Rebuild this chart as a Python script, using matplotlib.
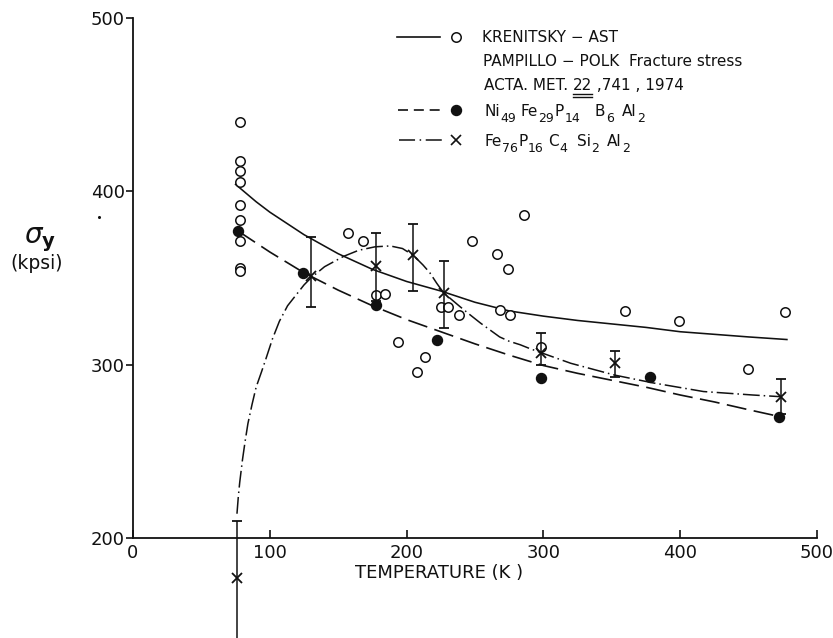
import matplotlib
matplotlib.use("Agg")
import matplotlib.pyplot as plt
from matplotlib.lines import Line2D

plt.rcParams['font.family'] = ['DejaVu Sans']
plt.rcParams['mathtext.fontset'] = 'dejavusans'

# Krenitsky-AST measurements (open circles)
ast_T = [78] * 9 + [157, 168, 177.6, 184, 194, 207.4, 213.8, 225.4, 230, 238.3,
                    247.8, 265.8, 268.3, 274.4, 275.6, 285.8, 298, 360, 399,
                    449.6, 476.8]
ast_sigma = [440, 417.5, 412, 405.5, 392, 383.5, 371.5, 355.5, 354,
             376, 371.5, 340, 341, 313, 295.6, 304.3, 333.5, 333, 328.7,
             371.4, 363.7, 331.7, 355, 328.7, 386.6, 310.4, 331, 325.2,
             297.7, 330.4]

# Ni49 Fe29 P14 B6 Al2 (filled circles)
ni_T = [77, 124.5, 177.6, 222.5, 298, 378, 472]
ni_sigma = [377, 353, 334.5, 314, 292.2, 292.7, 269.6]

# Fe76 P16 C4 Si2 Al2 (crosses with scatter bars)
fe_T = [76, 130, 177.6, 205, 227.3, 298, 352.3, 474]
fe_sigma = [177, 351, 357, 363.3, 341.5, 307, 301, 281.5]
fe_err_lo = [36, 17.5, 20, 21, 20.5, 7, 8, 10]
fe_err_hi = [33, 22.5, 19, 18, 18.5, 11.5, 7, 10]

# Hand-drawn trend curves, read at selected temperatures
ast_curve_T = [75, 90, 100, 125, 150, 175, 200, 225, 250, 275, 300, 325, 350,
               375, 400, 425, 450, 478]
ast_curve_sigma = [404, 394, 388, 375, 364, 355, 348, 342.5, 336, 331, 328,
                   325.5, 323.5, 321.5, 319, 317.5, 316, 314.5]

ni_curve_T = [77, 100, 125, 150, 175, 200, 225, 250, 275, 300, 325, 350, 375,
              400, 425, 450, 473]
ni_curve_sigma = [377, 365, 353, 343, 334, 326, 319, 312, 305.5, 299.5, 295,
                  291, 287, 282.5, 278.5, 274, 270]

fe_curve_T = [76, 77, 78, 80, 82, 84, 87, 90, 94, 97, 102, 107, 113, 120, 125,
              130, 140, 154, 165, 177, 188, 197, 205, 212, 217, 222, 227, 233,
              239, 246, 254, 261, 268, 275, 283, 290, 298, 320, 352, 380, 417,
              453, 474]
fe_curve_sigma = [214, 224, 232, 245, 256, 266, 277, 287, 296, 303, 315, 325,
                  334, 341, 346, 350, 356.5, 362.5, 366, 368, 368.5, 367, 363,
                  357.5, 353, 347, 341.5, 337.5, 333.5, 329, 324, 320, 316,
                  313.5, 311.5, 309.3, 307, 300.8, 294, 289.5, 284.5, 282.5,
                  281.5]

x_ticks = [0, 100, 200, 300, 400, 500]
y_ticks = [200, 300, 400, 500]

W, H = 833, 638
fig = plt.figure(figsize=(W / 100, H / 100), dpi=100)
ax = fig.add_axes([133 / W, 100 / H, 684 / W, 520 / H])

ink = '#111111'
DASH = (12, 4.5)
DASHDOT = (11, 2.6, 1.0, 2.6)

ax.plot(ast_curve_T, ast_curve_sigma, '-', color=ink, lw=1.15)
ax.plot(ni_curve_T, ni_curve_sigma, color=ink, lw=1.2, dashes=DASH)
ax.plot(fe_curve_T, fe_curve_sigma, color=ink, lw=1.1, dashes=DASHDOT)

ax.plot(ast_T, ast_sigma, 'o', ms=6.8, mfc='white', mec=ink, mew=1.1)
ax.plot(ni_T, ni_sigma, 'o', ms=7.2, mfc=ink, mec=ink)

eb = ax.errorbar(fe_T, fe_sigma, yerr=[fe_err_lo, fe_err_hi], fmt='x',
                 ms=7, mew=1.3, color=ink, ecolor=ink, elinewidth=1.1,
                 capsize=3.5, capthick=1.1)
for art in eb.lines[0:1] + tuple(eb.lines[1]) + tuple(eb.lines[2]):
    art.set_clip_on(False)

ax.set_xlim(0, 500)
ax.set_ylim(200, 500)
ax.set_xticks(x_ticks)
ax.set_yticks(y_ticks)
ax.spines['top'].set_visible(False)
ax.spines['right'].set_visible(False)
for s in ('left', 'bottom'):
    ax.spines[s].set_linewidth(1.3)
    ax.spines[s].set_color(ink)
ax.tick_params(axis='x', direction='in', length=6, width=1.2, pad=4,
               labelsize=13, colors=ink)
ax.tick_params(axis='y', direction='out', length=5, width=1.2, pad=1,
               labelsize=13, colors=ink)

# axis titles
fig.text(439 / W, 1 - 573 / H, 'TEMPERATURE (K )', ha='center', va='center',
         fontsize=13, color=ink)
fig.text(40 / W, 1 - 240 / H, r'$\sigma_{\mathbf{y}}$', ha='center',
         va='center', fontsize=20, color=ink)
fig.text(37 / W, 1 - 264 / H, '(kpsi)', ha='center', va='center',
         fontsize=13.5, color=ink)
# small ink speck below the 400 label
fig.add_artist(Line2D([99 / W], [1 - 217 / H], marker='o', ms=1.2,
                      mfc=ink, mec=ink, ls='none'))


def fx(px):
    return px / W


def fy(py):
    return 1 - py / H


renderer = fig.canvas.get_renderer()
key_fs = 11
sub_fs = 9


def formula(tokens, y_base):
    """Write element symbols at given x positions with subscripts after them."""
    for x0, sym, sub in tokens:
        t = fig.text(fx(x0), fy(y_base), sym, va='baseline', fontsize=key_fs,
                     color=ink)
        bb = t.get_window_extent(renderer)
        fig.text(bb.x1 / W + 0.5 / W, fy(y_base + 7), sub, va='baseline',
                 fontsize=sub_fs, color=ink)


# key
rows = [37, 61, 85, 110, 140]
fig.add_artist(Line2D([fx(397), fx(440)], [fy(rows[0])] * 2, color=ink, lw=1.2))
fig.add_artist(Line2D([fx(456)], [fy(rows[0])], marker='o', ms=6.8,
                      mfc='white', mec=ink, mew=1.1, ls='none'))
fig.text(fx(482), fy(rows[0]), 'KRENITSKY \u2212 AST', va='center',
         fontsize=key_fs, color=ink)
fig.text(fx(483), fy(rows[1]), 'PAMPILLO \u2212 POLK', va='center',
         fontsize=key_fs, color=ink)
fig.text(fx(629), fy(rows[1]), 'Fracture stress', va='center',
         fontsize=key_fs, color=ink)

t_a = fig.text(fx(484), fy(rows[2]), 'ACTA. MET. ', va='center',
               fontsize=key_fs, color=ink)
bb = t_a.get_window_extent(renderer)
t_b = fig.text(bb.x1 / W, fy(rows[2]), '22', va='center', fontsize=key_fs,
               color=ink)
bb2 = t_b.get_window_extent(renderer)
fig.text(bb2.x1 / W, fy(rows[2]), ' ,741 , 1974', va='center',
         fontsize=key_fs, color=ink)
for dy in (8.5, 11.5):
    fig.add_artist(Line2D([bb2.x0 / W, bb2.x1 / W],
                          [fy(rows[2] + dy)] * 2, color=ink, lw=1.0))

fig.add_artist(Line2D([fx(398), fx(443)], [fy(rows[3])] * 2, color=ink,
                      lw=1.2, dashes=(6, 3.5)))
fig.add_artist(Line2D([fx(456)], [fy(rows[3])], marker='o', ms=7.2,
                      mfc=ink, mec=ink, ls='none'))
formula([(484, 'Ni', '49'), (520, 'Fe', '29'), (555, 'P', '14'),
         (595, 'B', '6'), (622, 'Al', '2')], rows[3] + 5.5)

fig.add_artist(Line2D([fx(399), fx(445)], [fy(rows[4])] * 2, color=ink,
                      lw=1.1, dashes=(10.5, 3, 1.0, 3)))
fig.add_artist(Line2D([fx(456)], [fy(rows[4])], marker='x', ms=6.5,
                      mew=1.2, color=ink, ls='none'))
formula([(484, 'Fe', '76'), (518, 'P', '16'), (548, 'C', '4'),
         (577, 'Si', '2'), (607, 'Al', '2')], rows[4] + 5.5)

fig.savefig('out.png', dpi=100, facecolor='white')
